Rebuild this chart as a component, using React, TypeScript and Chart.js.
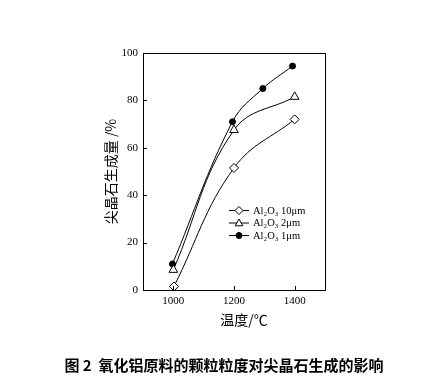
import React, { useEffect, useRef } from "react";
import { Chart, registerables } from "chart.js";

Chart.register(...registerables);

const seriesLabels = ["Al₂O₃ 10μm", "Al₂O₃ 2μm", "Al₂O₃ 1μm"];
const temp10 = [1002, 1200, 1400];
const yield10 = [1.5, 51.5, 72];
const temp2 = [1000, 1200, 1400];
const yield2 = [8.5, 67.5, 81.5];
const temp1 = [997, 1195, 1295, 1393];
const yield1 = [11, 71, 85, 94.5];
const xTicks = [1000, 1200, 1400];
const yTitle = "尖晶石生成量 /%";
const xTitle = "温度/℃";
const caption = "图 2  氧化铝原料的颗粒粒度对尖晶石生成的影响";

const toPts = (xs: number[], ys: number[]) => xs.map((x, i) => ({ x, y: ys[i] }));

function drawMarker(ctx: CanvasRenderingContext2D, style: string, x: number, y: number, r: number, fill: string) {
  ctx.beginPath();
  if (style === "rectRot") {
    ctx.moveTo(x, y - r);
    ctx.lineTo(x + r, y);
    ctx.lineTo(x, y + r);
    ctx.lineTo(x - r, y);
    ctx.closePath();
  } else if (style === "triangle") {
    ctx.moveTo(x, y - r);
    ctx.lineTo(x + r * 0.95, y + r * 0.7);
    ctx.lineTo(x - r * 0.95, y + r * 0.7);
    ctx.closePath();
  } else {
    ctx.arc(x, y, r, 0, Math.PI * 2);
  }
  ctx.fillStyle = fill;
  ctx.fill();
  ctx.strokeStyle = "#000";
  ctx.lineWidth = 1;
  ctx.stroke();
}

const decorPlugin = {
  id: "decor",
  afterDraw(chart: any) {
    const { ctx, chartArea } = chart;
    const { left, right, top, bottom } = chartArea;
    ctx.save();
    ctx.strokeStyle = "#000";
    ctx.lineWidth = 1;
    ctx.strokeRect(Math.round(left) + 0.5, Math.round(top) + 0.5, Math.round(right - left), Math.round(bottom - top));
    const xs = chart.scales.x;
    const ys = chart.scales.y;
    ctx.beginPath();
    xs.ticks.forEach((t: any) => {
      const px = Math.round(xs.getPixelForValue(t.value)) + 0.5;
      ctx.moveTo(px, bottom);
      ctx.lineTo(px, bottom - 4);
    });
    ys.ticks.forEach((t: any) => {
      const py = Math.round(ys.getPixelForValue(t.value)) + 0.5;
      ctx.moveTo(left, py);
      ctx.lineTo(left + 4, py);
    });
    ctx.stroke();

    const rows = [210, 222.5, 235];
    const styles = ["rectRot", "triangle", "circle"];
    const fills = ["#fff", "#fff", "#000"];
    const radii = [4, 4, 3];
    rows.forEach((ry, i) => {
      ctx.beginPath();
      ctx.moveTo(229, ry + 0.5);
      ctx.lineTo(249, ry + 0.5);
      ctx.strokeStyle = "#000";
      ctx.lineWidth = 1;
      ctx.stroke();
      drawMarker(ctx, styles[i], 239, ry + 0.5, radii[i], fills[i]);
      ctx.fillStyle = "#000";
      ctx.font = "10.5px 'Liberation Serif'";
      ctx.textAlign = "left";
      ctx.textBaseline = "middle";
      ctx.fillText(seriesLabels[i], 253, ry + 1);
    });

    ctx.fillStyle = "#000";
    ctx.font = "14px 'Noto Sans CJK SC'";
    ctx.textAlign = "center";
    ctx.textBaseline = "middle";
    ctx.fillText(xTitle, 244, 320);

    ctx.font = "bold 15px 'Noto Sans CJK SC'";
    ctx.fillText(caption, 224, 365);
    ctx.restore();
  },
};

export default function App() {
  const ref = useRef<HTMLCanvasElement | null>(null);
  useEffect(() => {
    if (!ref.current) return;
    const common = {
      borderColor: "#000",
      borderWidth: 1,
      pointBorderColor: "#000",
      pointBorderWidth: 1,
      tension: 0.4,
      fill: false,
    };
    const chart = new Chart(ref.current, {
      type: "line",
      data: {
        datasets: [
          {
            ...common,
            label: seriesLabels[0],
            data: toPts(temp10, yield10),
            pointStyle: "rectRot",
            pointRadius: 4.5,
            pointBackgroundColor: "#fff",
          },
          {
            ...common,
            label: seriesLabels[1],
            data: toPts(temp2, yield2),
            pointStyle: "triangle",
            pointRadius: 5,
            pointBackgroundColor: "#fff",
          },
          {
            ...common,
            label: seriesLabels[2],
            data: toPts(temp1, yield1),
            pointStyle: "circle",
            pointRadius: 3,
            pointBackgroundColor: "#000",
          },
        ],
      },
      options: {
        responsive: false,
        animation: false,
        layout: { padding: { left: 100, top: 53, right: 112, bottom: 38 } },
        plugins: { legend: { display: false }, tooltip: { enabled: false } },
        scales: {
          x: {
            type: "linear",
            min: 900,
            max: 1500,
            afterBuildTicks: (s: any) => {
              s.ticks = xTicks.map((v) => ({ value: v }));
            },
            afterFit: (s: any) => {
              s.height = 50;
            },
            grid: { display: false, drawTicks: false },
            border: { display: true, color: "#000", width: 1 },
            ticks: {
              color: "#000",
              padding: 5,
              callback: (v: any) => String(v),
              font: { family: "'Liberation Serif'", size: 11 },
            },
          },
          y: {
            type: "linear",
            min: 0,
            max: 100,
            afterFit: (s: any) => {
              s.width = 43;
            },
            grid: { display: false, drawTicks: false },
            border: { display: true, color: "#000", width: 1 },
            ticks: {
              stepSize: 20,
              color: "#000",
              padding: 5,
              font: { family: "'Liberation Serif'", size: 11 },
            },
            title: {
              display: true,
              text: yTitle,
              color: "#000",
              padding: { top: 2, bottom: 0 },
              font: { family: "'Noto Sans CJK SC'", size: 14 },
            },
          },
        },
      },
      plugins: [decorPlugin],
    });
    return () => chart.destroy();
  }, []);
  return (
    <div style={{ position: "absolute", left: 0, top: 0, width: 437, height: 378, background: "#fff" }}>
      <canvas ref={ref} width={437} height={378} style={{ display: "block", width: 437, height: 378 }} />
    </div>
  );
}
